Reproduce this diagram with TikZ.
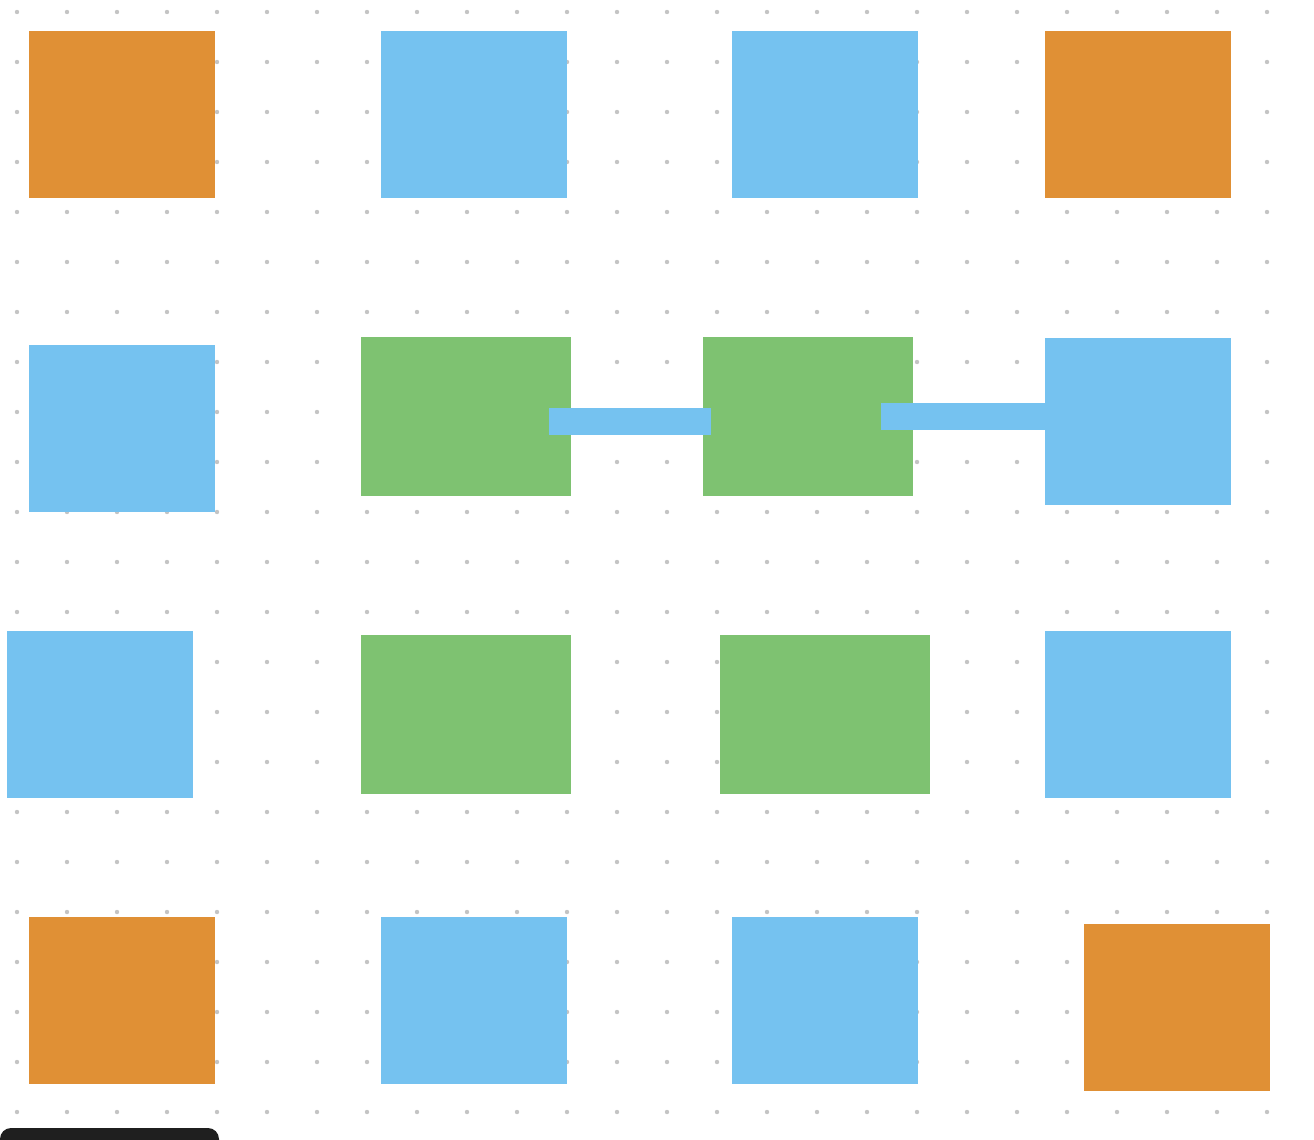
\documentclass[tikz,border=0pt]{standalone}
\definecolor{orangebox}{HTML}{E09035}
\definecolor{bluebox}{HTML}{75C2F0}
\definecolor{greenbox}{HTML}{7EC271}
\definecolor{dotgray}{HTML}{C4C4C4}
\definecolor{darkbar}{HTML}{1F1F1F}
\tikzset{
  box/.style={draw=none, inner sep=0pt, outer sep=0pt, anchor=north west, minimum width=186pt, minimum height=167pt},
  wide/.style={box, minimum width=210pt, minimum height=159pt},
  obox/.style={box, fill=orangebox},
  bbox/.style={box, fill=bluebox},
  gbox/.style={wide, fill=greenbox},
  griddot/.style={fill=dotgray}
}
\begin{document}
\begin{tikzpicture}[x=1pt,y=-1pt]
\useasboundingbox (0,0) rectangle (1314,1140);
\fill[white] (0,0) rectangle (1314,1140);
% dot grid
\foreach \i in {0,...,25} {
  \foreach \j in {0,...,22} {
    \fill[griddot] ({17+50*\i},{12+50*\j}) circle (2.2);
  }
}
% row 1
\node[obox] (r1a) at (29,31) {};
\node[bbox] (r1b) at (381,31) {};
\node[bbox] (r1c) at (732,31) {};
\node[obox] (r1d) at (1045,31) {};
% row 2
\node[bbox] (r2a) at (29,345) {};
\node[gbox] (r2b) at (361,337) {};
\node[gbox] (r2c) at (703,337) {};
\node[bbox] (r2d) at (1045,338) {};
\node[draw=none, fill=bluebox, inner sep=0pt, outer sep=0pt, anchor=north west, minimum width=162pt, minimum height=27pt] (bar1) at (549,408) {};
\node[draw=none, fill=bluebox, inner sep=0pt, outer sep=0pt, anchor=north west, minimum width=164pt, minimum height=27pt] (bar2) at (881,403) {};
% row 3
\node[bbox] (r3a) at (7,631) {};
\node[gbox] (r3b) at (361,635) {};
\node[gbox] (r3c) at (720,635) {};
\node[bbox] (r3d) at (1045,631) {};
% row 4
\node[obox] (r4a) at (29,917) {};
\node[bbox] (r4b) at (381,917) {};
\node[bbox] (r4c) at (732,917) {};
\node[obox] (r4d) at (1084,924) {};
% dark bar at bottom left
\fill[darkbar, rounded corners=11pt] (0,1128) rectangle (219,1160);
\end{tikzpicture}
\end{document}
